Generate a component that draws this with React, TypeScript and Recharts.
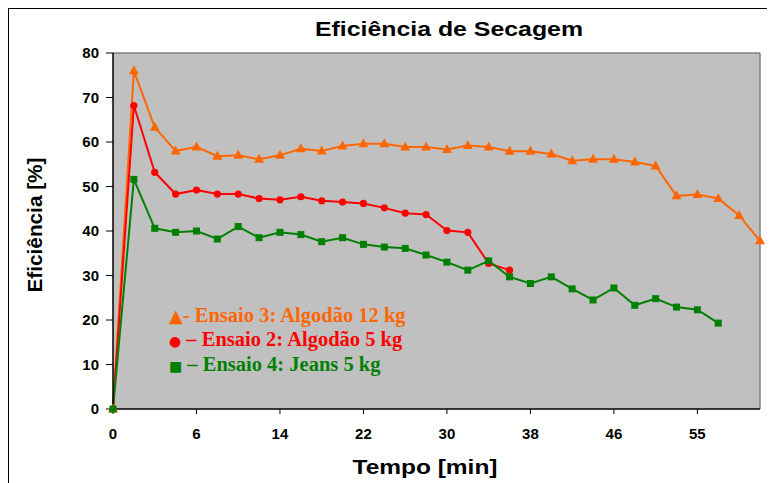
import {
  CartesianGrid,
  Line,
  LineChart,
  ReferenceLine,
  XAxis,
  YAxis,
} from 'recharts';

// Tempo (min) — só os rótulos múltiplos de 4 aparecem no eixo
const tempos = [
  '0', '1.5', '3', '4.5', '6', '8', '10', '12', '14', '16', '18', '20', '22', '24', '26', '28',
  '30', '32', '34', '36', '38', '40', '42', '44', '46', '48', '50', '52.5', '55', '57', '59', '61',
];

// Ensaio 3: Algodão 12 kg
const ensaio3 = [
  0, 76, 63.3, 58, 58.9, 56.8, 57, 56.1, 57, 58.5, 58, 59.1, 59.6, 59.6, 58.9, 58.9,
  58.3, 59.2, 58.9, 57.9, 57.9, 57.3, 55.8, 56.1, 56.1, 55.5, 54.6, 47.9, 48.2, 47.3, 43.5, 37.8,
];

// Ensaio 2: Algodão 5 kg
const ensaio2 = [
  0, 68.2, 53.2, 48.3, 49.2, 48.3, 48.3, 47.3, 47, 47.7, 46.8, 46.5, 46.2, 45.2, 44, 43.7,
  40.1, 39.7, 32.7, 31.2, null, null, null, null, null, null, null, null, null, null, null, null,
];

// Ensaio 4: Jeans 5 kg
const ensaio4 = [
  0, 51.6, 40.6, 39.7, 40, 38.2, 41, 38.5, 39.7, 39.2, 37.6, 38.5, 37, 36.4, 36.1, 34.6,
  33, 31.2, 33.3, 29.7, 28.2, 29.7, 27, 24.5, 27.2, 23.3, 24.8, 22.9, 22.3, 19.3, null, null,
];

const yTicks = [0, 10, 20, 30, 40, 50, 60, 70, 80];

const LARANJA = '#ff6600';
const VERMELHO = '#ff0000';
const VERDE = '#008000';

const data = tempos.map((t, i) => ({
  tempo: t,
  e3: ensaio3[i],
  e2: ensaio2[i],
  e4: ensaio4[i],
}));

const tickStyle = { fontSize: 15, fontWeight: 700, fill: '#000', fontFamily: '"Liberation Sans", Arial, sans-serif' };

function Triangulo(props: any) {
  const { cx, cy, value } = props;
  if (value == null || cx == null || cy == null) return <g key={props.key} />;
  return (
    <polygon
      key={props.key}
      points={`${cx},${cy - 5.5} ${cx - 5},${cy + 3.5} ${cx + 5},${cy + 3.5}`}
      fill={LARANJA}
    />
  );
}

function Circulo(props: any) {
  const { cx, cy, value } = props;
  if (value == null || cx == null || cy == null) return <g key={props.key} />;
  return <circle key={props.key} cx={cx} cy={cy} r={3.6} fill={VERMELHO} />;
}

function Quadrado(props: any) {
  const { cx, cy, value } = props;
  if (value == null || cx == null || cy == null) return <g key={props.key} />;
  return <rect key={props.key} x={cx - 3.5} y={cy - 3.5} width={7} height={7} fill={VERDE} />;
}

const legenda = [
  { simbolo: '▲', texto: '- Ensaio 3: Algodão 12 kg', cor: LARANJA, tam: 18 },
  { simbolo: '●', texto: ' – Ensaio 2: Algodão 5 kg', cor: VERMELHO, tam: 14 },
  { simbolo: '■', texto: ' – Ensaio 4: Jeans 5 kg', cor: VERDE, tam: 14 },
];

export default function App() {
  return (
    <div
      style={{
        position: 'relative',
        width: 767,
        height: 475,
        borderTop: '1px solid #000',
        borderLeft: '1px solid #000',
        background: '#fff',
        fontFamily: '"Liberation Sans", Arial, sans-serif',
      }}
    >
      <LineChart
        width={766}
        height={474}
        data={data}
        margin={{ top: 44, right: 15, left: 0, bottom: 0 }}
      >
        <CartesianGrid fill="#c0c0c0" stroke="none" horizontal={false} vertical={false} />
        <XAxis
          dataKey="tempo"
          interval={3}
          height={74}
          tick={tickStyle}
          tickSize={5}
          tickMargin={14}
          stroke="#000"
          axisLine={{ stroke: '#000', strokeWidth: 1.5 }}
          tickLine={{ stroke: '#000' }}
        />
        <YAxis
          domain={[0, 80]}
          ticks={yTicks}
          width={104}
          tick={tickStyle}
          tickSize={7}
          tickMargin={7}
          axisLine={{ stroke: '#000', strokeWidth: 1.5 }}
          tickLine={{ stroke: '#000' }}
        />
        <ReferenceLine y={80} stroke="#808080" strokeWidth={1.5} />
        <ReferenceLine x={tempos[tempos.length - 1]} stroke="#808080" strokeWidth={1.5} />
        <Line
          dataKey="e3"
          stroke={LARANJA}
          strokeWidth={2}
          dot={Triangulo}
          activeDot={false}
          isAnimationActive={false}
        />
        <Line
          dataKey="e2"
          stroke={VERMELHO}
          strokeWidth={2}
          dot={Circulo}
          activeDot={false}
          isAnimationActive={false}
        />
        <Line
          dataKey="e4"
          stroke={VERDE}
          strokeWidth={2}
          dot={Quadrado}
          activeDot={false}
          isAnimationActive={false}
        />
        <text
          x={440}
          y={27}
          textAnchor="middle"
          fontSize={20}
          fontWeight={700}
          fill="#000"
          textLength={268}
          lengthAdjust="spacingAndGlyphs"
        >
          Eficiência de Secagem
        </text>
        <text
          x={416}
          y={465}
          textAnchor="middle"
          fontSize={21}
          fontWeight={700}
          fill="#000"
          textLength={145}
          lengthAdjust="spacingAndGlyphs"
        >
          Tempo [min]
        </text>
        <text
          x={33}
          y={216}
          textAnchor="middle"
          fontSize={20}
          fontWeight={700}
          fill="#000"
          textLength={135}
          lengthAdjust="spacingAndGlyphs"
          transform="rotate(-90 33 216)"
        >
          Eficiência [%]
        </text>
      </LineChart>
      <div
        style={{
          position: 'absolute',
          left: 160,
          top: 295,
          fontFamily: '"Liberation Serif", "Times New Roman", serif',
          fontWeight: 700,
          fontSize: 20.5,
          lineHeight: '23.5px',
          whiteSpace: 'pre',
        }}
      >
        {legenda.map((l) => (
          <div key={l.texto} style={{ color: l.cor }}>
            <span style={{ fontSize: l.tam, fontFamily: '"DejaVu Sans", sans-serif' }}>{l.simbolo}</span>
            {l.texto}
          </div>
        ))}
      </div>
    </div>
  );
}
